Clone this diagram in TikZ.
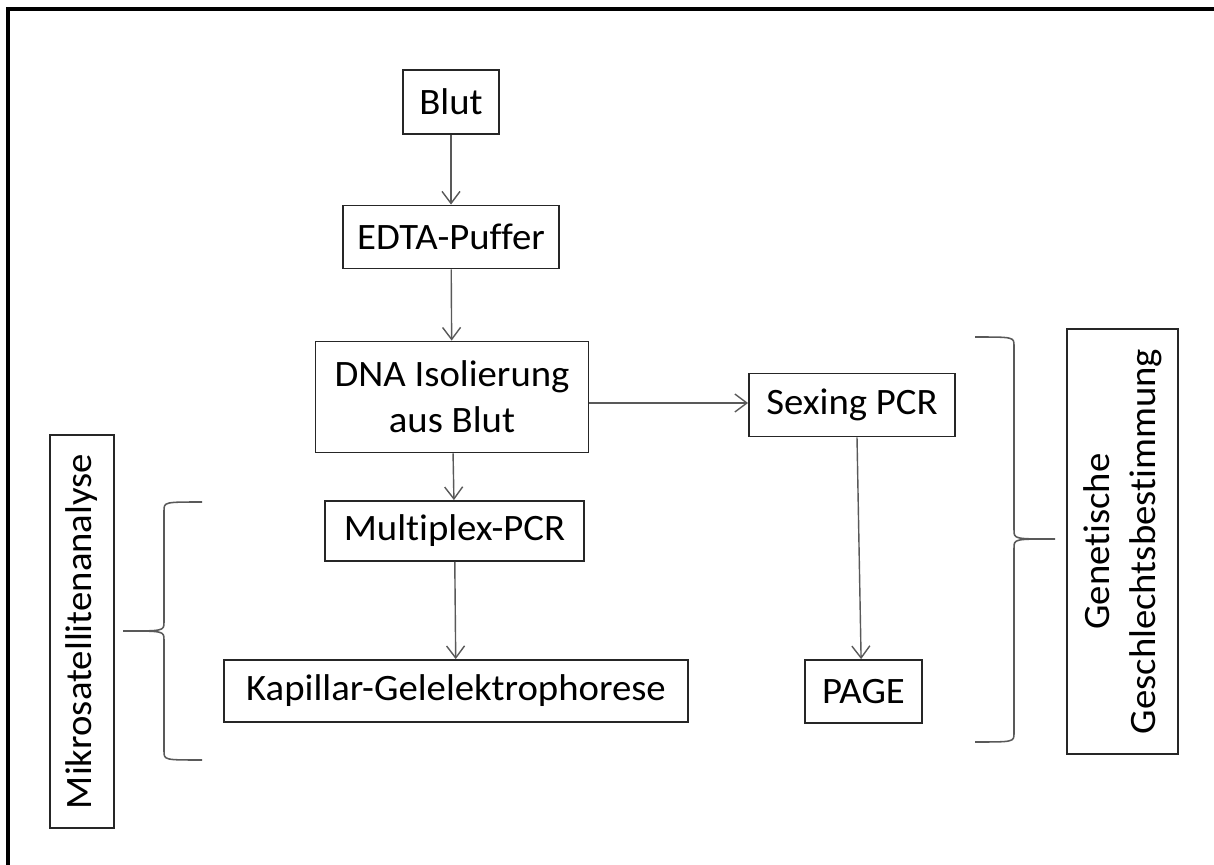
\documentclass[tikz,border=0pt]{standalone}
\usepackage{fontspec}
\setmainfont{Carlito}[Ligatures=NoCommon,FakeStretch=1.04]
\usepackage{tikz}
\usetikzlibrary{arrows.meta}
\definecolor{linegray}{rgb}{0.35,0.35,0.35}
% curly brace: #1 tip x, #2 spine x, #3 point x, #4 top y, #5 middle y, #6 bottom y
\newcommand{\drawbrace}[6]{
  \draw[bracestyle] (#1,#4) .. controls (#2,#4) .. (#2,{#4+9})
    -- (#2,{#5-9}) .. controls (#2,#5) .. (#3,#5)
    .. controls (#2,#5) .. (#2,{#5+9})
    -- (#2,{#6-9}) .. controls (#2,#6) .. (#1,#6);
}

\begin{document}
\begin{tikzpicture}[x=0.025cm,y=-0.025cm,
    every node/.style={font=\fontsize{26.5pt}{32.7pt}\selectfont},
    stepbox/.style={draw=black!85,line width=1.3pt,inner sep=0pt,align=center},
    flow/.style={draw=linegray,line width=1pt,-{Straight Barb[length=0.3cm,width=0.45cm]}},
    bracestyle/.style={draw=linegray,line width=1.1pt}]
  \useasboundingbox (0,0) rectangle (1214,865);
  \draw[line width=2.2pt] (1230,9) -- (8,9) -- (8,880);

  % main column
  \node[stepbox,minimum width=2.4cm,minimum height=1.6cm] (blut) at (451,102) {Blut};
  \node[stepbox,minimum width=5.4cm,minimum height=1.575cm] (edta) at (451,237) {EDTA-Puffer};
  \node[stepbox,minimum width=6.825cm,minimum height=2.775cm] (dna) at (452,397) {DNA Isolierung\\aus Blut};
  \node[stepbox,minimum width=6.475cm,minimum height=1.5cm] (multiplex) at (454.5,531) {Multiplex-PCR};
  \node[stepbox,minimum width=11.6cm,minimum height=1.55cm] (kapillar) at (456,691) {Kapillar-Gelelektrophorese};

  % sexing branch
  \node[stepbox,minimum width=5.15cm,minimum height=1.575cm] (sexing) at (852,405) {Sexing PCR};
  \node[stepbox,minimum width=2.925cm,minimum height=1.575cm] (page) at (863.5,691.5) {PAGE};

  % side labels
  \node[stepbox,rotate=90,minimum width=9.825cm,minimum height=1.6cm] (mikro) at (82,631.5) {Mikrosatellitenanalyse};
  \node[stepbox,rotate=90,minimum width=10.625cm,minimum height=2.775cm] (geschlecht) at (1122.5,541.5) {Genetische\\Geschlechtsbestimmung};

  \draw[flow] (blut) -- (edta);
  \draw[flow] (edta) -- (dna);
  \draw[flow] (dna.east |- 0,403) -- (sexing.west |- 0,403);
  \draw[flow] (dna) -- (multiplex);
  \draw[flow] (multiplex) -- (kapillar);
  \draw[flow] ([xshift=0.125cm]sexing.south) -- ([xshift=-0.06cm]page.north);

  \drawbrace{202}{164}{123}{502}{631}{760}
  \drawbrace{975}{1014}{1055}{337}{539}{742}
\end{tikzpicture}
\end{document}
